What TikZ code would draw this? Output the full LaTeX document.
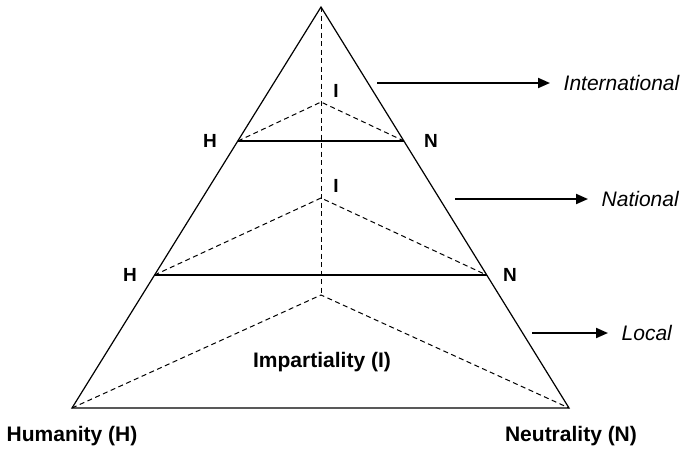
\documentclass[tikz,border=0pt]{standalone}
\usepackage{fontspec}
\setmainfont{Liberation Sans}
\usetikzlibrary{positioning, arrows.meta}

\begin{document}
\begin{tikzpicture}[x=1pt, y=-1pt,
    edge/.style={line width=1.2pt},
    hidden/.style={line width=1pt, dash pattern=on 5pt off 3.5pt},
    corner/.style={inner sep=0pt, font=\fontsize{19}{22}\selectfont\bfseries},
    pillar/.style={inner sep=0pt, anchor=base, font=\fontsize{21}{24}\selectfont\bfseries},
    levellabel/.style={anchor=west, inner xsep=13.5pt, inner ysep=0pt, font=\fontsize{21}{24}\selectfont\itshape},
    levelarrow/.style={line width=2pt, -{Triangle[length=12pt, width=10pt]}}]
  \useasboundingbox (0,0) rectangle (682,448);
  % pyramid corners
  \coordinate (top) at (321,7);
  \coordinate (hum) at (72,408);
  \coordinate (neu) at (569,408);
  \coordinate (imp) at (321,295);
  % national level
  \coordinate (hum2) at (154.5,275);
  \coordinate (neu2) at (486.5,275);
  \coordinate (imp2) at (321,198);
  % international level
  \coordinate (hum1) at (238,141);
  \coordinate (neu1) at (404,141);
  \coordinate (imp1) at (321,102);

  \draw[edge] (top) -- (hum) -- (neu) -- cycle;
  \draw[edge] (hum2) -- (neu2);
  \draw[edge] (hum1) -- (neu1);
  \draw[hidden] (top) -- (imp);
  \draw[hidden] (hum) -- (imp) -- (neu);
  \draw[hidden] (hum2) -- (imp2) -- (neu2);
  \draw[hidden] (hum1) -- (imp1) -- (neu1);

  % corner letters
  \node[corner] (h1) at (210,141) {H};
  \node[corner] (n1) at (431,141) {N};
  \node[corner] (i1) at (336,91) {I};
  \node[corner] (h2) at (130,275) {H};
  \node[corner] (n2) at (510,275) {N};
  \node[corner] (i2) at (336,186) {I};

  \node[pillar] (humanity) at (72,441) {Humanity (H)};
  \node[pillar] (neutrality) at (571,441) {Neutrality (N)};
  \node[pillar] (impartiality) at (322,367) {Impartiality (I)};

  % levels
  \coordinate (intlfrom) at (377,83);
  \coordinate (natfrom) at (455,199);
  \coordinate (locfrom) at (532,333);
  \node[levellabel] (intl) at (550,83) {International};
  \node[levellabel] (nat) at (588,199) {National};
  \node[levellabel] (loc) at (608,333) {Local};
  \draw[levelarrow] (intlfrom) -- (intl.west);
  \draw[levelarrow] (natfrom) -- (nat.west);
  \draw[levelarrow] (locfrom) -- (loc.west);
\end{tikzpicture}
\end{document}
